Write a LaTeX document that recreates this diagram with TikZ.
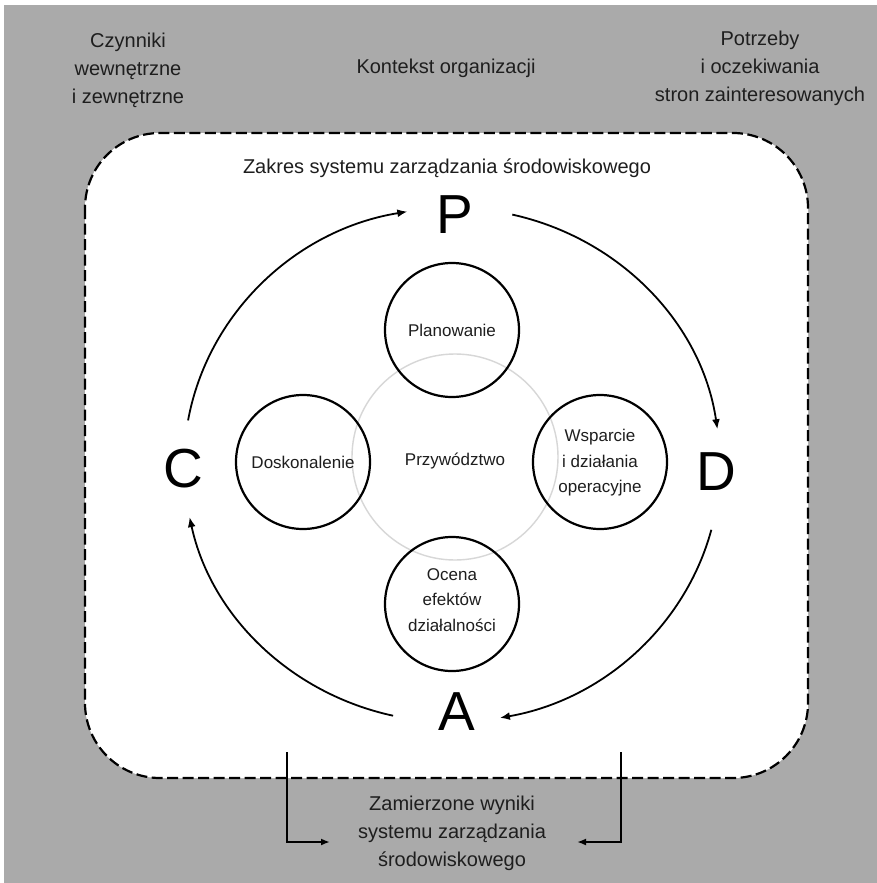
\documentclass[tikz,border=0pt]{standalone}
\usepackage{fontspec}
\setmainfont{Liberation Sans}
\usetikzlibrary{arrows.meta}
\definecolor{bggray}{RGB}{170,170,170}
\definecolor{txt}{RGB}{30,30,30}
\definecolor{lightc}{RGB}{215,215,215}
\begin{document}
\begin{tikzpicture}[x=1pt,y=1pt,
  outer/.style={align=center,inner sep=0pt,text=txt,font=\fontsize{20}{28}\selectfont},
  inner/.style={align=center,inner sep=0pt,text=txt,font=\fontsize{17}{25.5}\selectfont},
  letter/.style={inner sep=0pt,text=black,font=\fontsize{55}{55}\selectfont},
  phase/.style={circle,draw=black,line width=2.2pt,minimum size=134pt,inner sep=0pt},
  arr/.style={line width=1.8pt,-{Latex[length=10pt,width=8pt]}},
  barr/.style={line width=2pt,-{Latex[length=9pt,width=7pt]}}]
\useasboundingbox (0,0) rectangle (877,-883);
\fill[white] (0,0) rectangle (877,-883);
\fill[bggray] (4,-5) rectangle (877,-883);
% scope box
\fill[white] (85,-133) [rounded corners=75pt] rectangle (808,-778);
\draw[black,line width=2.2pt,dash pattern=on 11pt off 4.5pt] (85,-133) [rounded corners=75pt] rectangle (808,-778);
% outer texts
\node[outer] (czyn) at (128,-70) {Czynniki\\wewnętrzne\\i zewnętrzne};
\node[outer] (kont) at (446,-68) {Kontekst organizacji};
\node[outer] (potr) at (760,-68) {Potrzeby\\i oczekiwania\\stron zainteresowanych};
\node[outer] (zakres) at (447,-168) {Zakres systemu zarządzania środowiskowego};
% PDCA letters
\node[letter] (P) at (455,-215) {P};
\node[letter] (D) at (716,-472) {D};
\node[letter] (C) at (183,-469) {C};
\node[letter] (A) at (457,-712) {A};
% cycle arcs
\coordinate (O) at (452,-465);
\draw[arr] ([shift={(170:268 and 257)}]O) arc[start angle=170,end angle=99.6,x radius=268,y radius=257];
\draw[arr] ([shift={(77:268 and 257)}]O) arc[start angle=77,end angle=8,x radius=268,y radius=257];
\draw[arr] ([shift={(-14.6:268 and 257)}]O) arc[start angle=-14.6,end angle=-79.7,x radius=268,y radius=257];
\draw[arr] ([shift={(-102.7:268 and 257)}]O) arc[start angle=-102.7,end angle=-168.3,x radius=268,y radius=257];
% leadership circle
\node[circle,draw=lightc,line width=1.4pt,minimum size=206pt,inner sep=0pt] (przc) at (455,-457) {};
\node[inner] (przyw) at (455,-461) {Przywództwo};
% phase circles
\node[phase] (pl) at (452,-330) {};
\node[inner] at (pl) {Planowanie};
\node[phase] (dos) at (303,-462) {};
\node[inner] at (dos) {Doskonalenie};
\node[phase] (wsp) at (600,-462) {};
\node[inner] at ([yshift=-1pt]wsp) {Wsparcie\\i działania\\operacyjne};
\node[phase] (oc) at (452,-604) {};
\node[inner] at ([yshift=4pt]oc) {Ocena\\efektów\\działalności};
% results
\node[outer] (res) at (452,-833) {Zamierzone wyniki\\systemu zarządzania\\środowiskowego};
\coordinate (la) at (287,-752);
\coordinate (lb) at (330,-842);
\coordinate (ra) at (621,-752);
\coordinate (rb) at (577,-842);
\draw[barr] (la) |- (lb);
\draw[barr] (ra) |- (rb);
\end{tikzpicture}
\end{document}
